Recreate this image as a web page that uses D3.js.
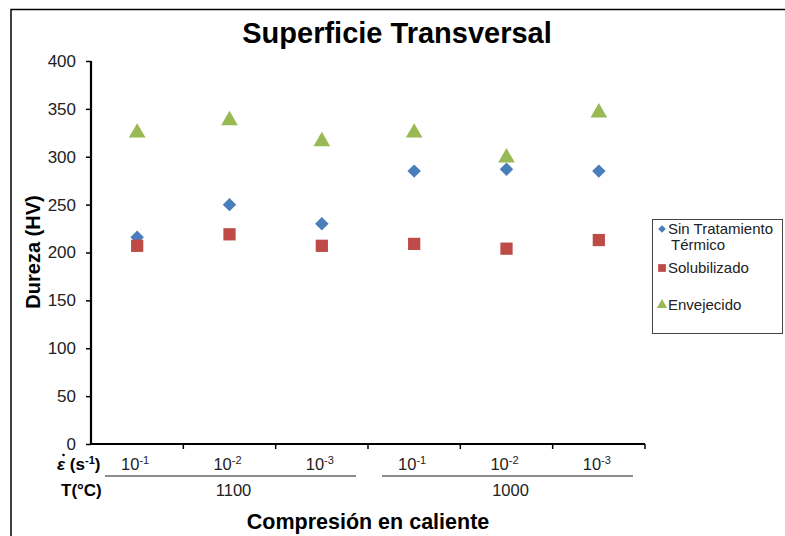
<!DOCTYPE html>
<html lang="es">
<head>
<meta charset="utf-8">
<title>Superficie Transversal</title>
<script src="https://cdn.jsdelivr.net/npm/d3@7"></script>
<style>
  body { margin: 0; background: #fff; }
  text { font-family: "Liberation Sans", Arial, sans-serif; }
</style>
</head>
<body>
<div id="chart"></div>
<script>
// data
var categories = ["a", "b", "c", "d", "e", "f"];
var rateLabels = ["-1", "-2", "-3", "-1", "-2", "-3"];
var tempGroups = ["1100", "1000"];
var sinTratamiento = [216, 250, 230, 285, 287, 285];
var solubilizado = [207, 219, 207, 209, 204, 213];
var envejecido = [325, 338, 316, 325, 299, 346];
var yTicks = [0, 50, 100, 150, 200, 250, 300, 350, 400];

var w = 785, h = 536;

var svg = d3.select("#chart").append("svg")
  .attr("width", w).attr("height", h);

// outer frame
svg.append("rect")
  .attr("x", 11).attr("y", 9.5)
  .attr("width", 800).attr("height", 600)
  .attr("fill", "none").attr("stroke", "#000").attr("stroke-width", 1.5);

var x = d3.scaleBand().domain(categories).range([91, 645]);
var y = d3.scaleLinear().domain([0, 400]).range([444, 61]);

// title
svg.append("text")
  .attr("x", 397).attr("y", 43)
  .attr("text-anchor", "middle")
  .attr("font-size", 29).attr("font-weight", "bold")
  .text("Superficie Transversal");

// y axis
var yAxis = svg.append("g")
  .attr("transform", "translate(91,0)")
  .call(d3.axisLeft(y).tickValues(yTicks).tickSize(5).tickPadding(10));
yAxis.select(".domain").attr("stroke-width", 2.2).attr("d", "M0," + y(400) + "V" + y(0));
yAxis.selectAll(".tick line").attr("stroke-width", 1.5).attr("x1", -5).attr("x2", 0);
yAxis.selectAll(".tick text").attr("font-size", 17).attr("fill", "#222")
  .style("font-family", "Liberation Sans, Arial, sans-serif");

// x axis (category boundaries)
var bounds = categories.map(function(c) { return x(c); }).concat([x.range()[1]]);
var xAxis = svg.append("g");
xAxis.append("line")
  .attr("x1", 91).attr("x2", 645).attr("y1", y(0)).attr("y2", y(0))
  .attr("stroke", "#000").attr("stroke-width", 2.2);
xAxis.selectAll(".tk").data(bounds.slice(1)).enter().append("line")
  .attr("x1", function(d) { return d; }).attr("x2", function(d) { return d; })
  .attr("y1", y(0)).attr("y2", y(0) + 5)
  .attr("stroke", "#000").attr("stroke-width", 1.5);

// strain rate labels
var rl = svg.selectAll(".rate").data(categories).enter().append("text")
  .attr("x", function(d) { return x(d) + x.bandwidth() / 2 - 2; })
  .attr("y", 470)
  .attr("text-anchor", "middle")
  .attr("font-size", 16.5).attr("fill", "#222");
rl.append("tspan").text("10");
rl.append("tspan").attr("dy", -6).attr("font-size", 11)
  .text(function(d, i) { return rateLabels[i]; });

// group lines and temperature labels
tempGroups.forEach(function(t, g) {
  var x0 = x(categories[g * 3]) + 14;
  var x1 = x(categories[g * 3 + 2]) + x.bandwidth() - 12;
  svg.append("line")
    .attr("x1", x0).attr("x2", x1).attr("y1", 476).attr("y2", 476)
    .attr("stroke", "#666").attr("stroke-width", 1.3);
  svg.append("text")
    .attr("x", x(categories[g * 3 + 1]) + x.bandwidth() / 2 + 4)
    .attr("y", 496)
    .attr("text-anchor", "middle")
    .attr("font-size", 16.5).attr("fill", "#222")
    .text(t);
});

var eps = svg.append("text").attr("x", 57).attr("y", 470)
  .attr("font-size", 17).attr("font-weight", "bold");
eps.append("tspan").attr("font-style", "italic").text("\u03b5");
eps.append("tspan").text(" (s");
eps.append("tspan").attr("dy", -6).attr("font-size", 11).text("-1");
eps.append("tspan").attr("dy", 6).text(")");
svg.append("circle").attr("cx", 63.5).attr("cy", 455).attr("r", 1.3).attr("fill", "#000");

svg.append("text").attr("x", 61).attr("y", 496)
  .attr("font-size", 17).attr("font-weight", "bold").text("T(\u00b0C)");

// axis titles
svg.append("text")
  .attr("x", 368).attr("y", 529)
  .attr("text-anchor", "middle")
  .attr("font-size", 21.5).attr("font-weight", "bold")
  .text("Compresi\u00f3n en caliente");

svg.append("text")
  .attr("transform", "translate(40,252) rotate(-90)")
  .attr("text-anchor", "middle")
  .attr("font-size", 20).attr("font-weight", "bold")
  .text("Dureza (HV)");

// series
var series = [
  { name: "Sin Tratamiento", values: sinTratamiento, color: "#4a7ebb", sym: d3.symbolSquare, size: 90 },
  { name: "Solubilizado", values: solubilizado, color: "#be4b48", sym: d3.symbolSquare, size: 150 },
  { name: "Envejecido", values: envejecido, color: "#98b954", sym: d3.symbolTriangle, size: 120 }
];

series.forEach(function(s, si) {
  var g = svg.append("g");
  g.selectAll("path").data(s.values).enter().append("path")
    .attr("d", d3.symbol().type(s.sym).size(s.size)())
    .attr("transform", function(d, i) {
      var cx = x(categories[i]) + x.bandwidth() / 2;
      return "translate(" + cx + "," + y(d) + ")" + (si === 0 ? " rotate(45)" : "");
    })
    .attr("fill", s.color);
});

// legend
var lg = svg.append("g");
lg.append("rect")
  .attr("x", 652.5).attr("y", 219.5).attr("width", 130).attr("height", 114)
  .attr("fill", "#fff").attr("stroke", "#444").attr("stroke-width", 1);

var legendItems = [
  { lines: ["Sin Tratamiento", "T\u00e9rmico"], y: 229 },
  { lines: ["Solubilizado"], y: 268 },
  { lines: ["Envejecido"], y: 305 }
];
legendItems.forEach(function(it, i) {
  var s = series[i];
  var sy = d3.symbol().type(s.sym).size(i === 0 ? 30 : (i === 1 ? 60 : 45));
  lg.append("path")
    .attr("d", sy())
    .attr("transform", "translate(662," + it.y + ")" + (i === 0 ? " rotate(45)" : ""))
    .attr("fill", s.color);
  var t = lg.append("text").attr("x", 668).attr("y", it.y + 5)
    .attr("font-size", 15).attr("fill", "#222");
  it.lines.forEach(function(l, k) {
    t.append("tspan").attr("x", k === 0 ? 668 : 671).attr("dy", k === 0 ? 0 : 16).text(l);
  });
});
</script>
</body>
</html>
